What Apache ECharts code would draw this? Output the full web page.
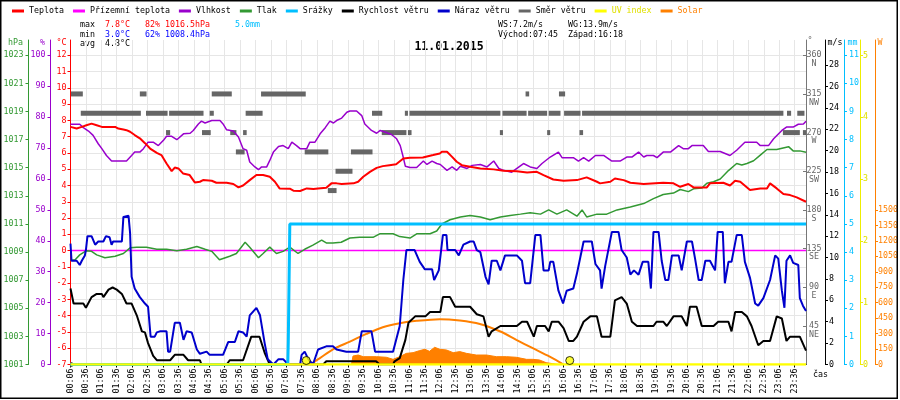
<!DOCTYPE html>
<html><head><meta charset="utf-8">
<script src="https://cdn.jsdelivr.net/npm/echarts@6/dist/echarts.min.js"></script>
<style>html,body{margin:0;padding:0;background:#fff}#c{width:900px;height:400px}</style>
</head><body><div id="c"></div>
<script>
const FONT = 'DejaVu Sans Mono';
const FS = 8.3;

// ---- tick labels ----
const timeLabels = ['00:06','00:36','01:06','01:36','02:06','02:36','03:06','03:36','04:06','04:36','05:06','05:36','06:06','06:36','07:06','07:36','08:06','08:36','09:06','09:36','10:06','10:36','11:06','11:36','12:06','12:36','13:06','13:36','14:06','14:36','15:06','15:36','16:06','16:36','17:06','17:36','18:06','18:36','19:06','19:36','20:06','20:36','21:06','21:36','22:06','22:36','23:06','23:36'];
const tempTicks = [-7,-6,-5,-4,-3,-2,-1,0,1,2,3,4,5,6,7,8,9,10,11,12];
const humTicks = [0,10,20,30,40,50,60,70,80,90,100];
const pressTicks = [1001,1003,1005,1007,1009,1011,1013,1015,1017,1019,1021,1023];
const dirTicks = [45,90,135,180,225,270,315,360];
const dirNames = ['NE','E','SE','S','SW','W','NW','N'];
const windTicks = [0,2,4,6,8,10,12,14,16,18,20,22,24,26,28];
const rainTicks = [0,1,2,3,4,5,6,7,8,9,10,11];
const uvTicks = [0,1,2,3,4,5];
const solarTicks = [0,150,300,450,600,750,900,1050,1200,1350,1500];

// ---- series values [time, value] ----
const temperature = [['00:06',7.6],['00:18',7.5],['00:28',7.6],['00:37',7.7],['00:47',7.8],['00:57',7.7],['01:07',7.6],['01:33',7.6],['01:39',7.5],['01:49',7.44],['01:55',7.4],['02:02',7.3],['02:11',7.1],['02:21',6.9],['02:31',6.6],['02:41',6.27],['02:54',6.0],['03:03',5.87],['03:13',5.35],['03:23',4.88],['03:29',5.1],['03:36',5.05],['03:45',4.74],['03:58',4.64],['04:08',4.19],['04:18',4.23],['04:24',4.33],['04:41',4.29],['04:50',4.17],['05:10',4.17],['05:23',4.09],['05:33',3.88],['05:42',4.0],['05:55',4.33],['06:08',4.64],['06:21',4.64],['06:34',4.54],['06:44',4.23],['06:53',3.82],['07:13',3.8],['07:20',3.68],['07:33',3.66],['07:46',3.82],['07:59',3.78],['08:08',3.82],['08:24',3.86],['08:34',4.13],['08:44',4.13],['08:54',4.09],['09:17',4.13],['09:26',4.23],['09:36',4.54],['09:49',4.84],['10:02',5.08],['10:14',5.19],['10:27',5.25],['10:40',5.31],['10:54',5.66],['11:07',5.7],['11:32',5.72],['11:52',5.87],['12:05',5.97],['12:09',6.07],['12:19',6.07],['12:29',5.76],['12:38',5.46],['12:48',5.25],['13:04',5.15],['13:24',5.05],['13:50',4.99],['14:09',4.9],['14:35',4.88],['14:55',4.8],['15:14',4.84],['15:27',4.64],['15:46',4.37],['16:06',4.29],['16:32',4.33],['16:51',4.5],['17:11',4.23],['17:17',4.13],['17:37',4.23],['17:46',4.43],['18:03',4.33],['18:16',4.17],['18:42',4.09],['19:20',4.17],['19:40',4.13],['19:53',3.92],['20:09',4.09],['20:19',3.88],['20:45',3.88],['20:51',4.13],['21:17',4.17],['21:30',4.0],['21:40',4.29],['21:50',4.23],['22:09',3.72],['22:29',3.82],['22:42',3.82],['22:48',4.13],['23:01',3.82],['23:14',3.47],['23:27',3.41],['23:40',3.27],['23:58',3.0]];

const groundTemp = [['00:06',0],['23:58',0]];

const humidity = [['00:06',77.7],['00:24',77.7],['00:31',76.6],['00:41',75.5],['00:50',74.1],['01:00',71.4],['01:07',69.8],['01:16',67.6],['01:26',65.8],['01:55',65.8],['02:05',67.6],['02:11',68.7],['02:21',68.7],['02:28',69.8],['02:37',71.9],['02:47',71.9],['02:57',70.8],['03:07',72.5],['03:13',73.8],['03:23',73.8],['03:33',72.7],['03:46',74.6],['03:59',74.8],['04:05',75.7],['04:15',77.8],['04:21',78.7],['04:28',78.1],['04:41',78.9],['04:57',78.9],['05:03',77.8],['05:10',75.9],['05:23',75.5],['05:33',73.6],['05:42',69.8],['05:49',69.3],['05:55',65.5],['06:05',63.9],['06:12',63.0],['06:18',63.9],['06:28',63.9],['06:34',66.0],['06:41',68.7],['06:51',70.5],['07:00',70.8],['07:10',69.8],['07:17',71.9],['07:26',70.8],['07:33',69.8],['07:46',69.8],['07:52',71.9],['08:02',71.9],['08:12',74.6],['08:22',76.6],['08:31',78.7],['08:38',78.1],['08:44',78.9],['08:54',79.7],['09:04',81.6],['09:10',82.0],['09:23',82.0],['09:33',80.5],['09:39',77.8],['09:52',75.7],['10:02',74.8],['10:09',75.7],['10:18',75.2],['10:31',74.4],['10:41',73.0],['10:48',70.8],['10:53',67.6],['10:58',64.1],['11:07',63.7],['11:20',63.7],['11:33',65.8],['11:40',64.7],['11:50',65.8],['11:59',65.0],['12:06',64.7],['12:19',62.8],['12:29',63.9],['12:38',62.8],['12:45',64.1],['12:58',63.4],['13:08',64.4],['13:24',64.7],['13:37',63.9],['13:50',65.8],['14:00',63.4],['14:09',62.8],['14:25',62.2],['14:48',65.0],['15:01',63.9],['15:14',63.4],['15:24',65.0],['15:40',67.1],['15:56',68.7],['16:03',66.9],['16:25',66.9],['16:35',65.8],['16:45',66.9],['16:55',65.8],['17:08',67.6],['17:24',67.6],['17:40',65.8],['17:56',65.8],['18:09',67.1],['18:19',67.1],['18:32',68.7],['18:42',67.1],['18:48',67.6],['19:01',67.6],['19:08',66.9],['19:20',68.7],['19:34',68.7],['19:50',70.8],['19:59',69.8],['20:09',69.8],['20:16',70.8],['20:38',70.8],['20:48',68.9],['21:11',68.9],['21:30',67.6],['21:43',69.3],['21:59',71.9],['22:22',71.9],['22:29',70.8],['22:45',70.8],['22:55',73.0],['23:11',75.7],['23:20',76.8],['23:33',76.8],['23:43',77.7],['23:53',77.8],['23:58',78.7]];

const pressure = [['00:06',1008.4],['00:15',1008.45],['00:24',1008.8],['00:37',1009.1],['00:47',1009.05],['00:57',1008.8],['01:13',1008.6],['01:33',1008.7],['01:49',1008.9],['02:02',1009.3],['02:15',1009.35],['02:34',1009.35],['02:54',1009.2],['03:13',1009.2],['03:33',1009.1],['03:52',1009.2],['04:12',1009.4],['04:28',1009.2],['04:41',1009.05],['04:56',1008.45],['05:16',1008.7],['05:29',1008.9],['05:46',1009.7],['05:55',1009.35],['06:12',1008.6],['06:21',1008.9],['06:34',1009.35],['06:47',1008.9],['07:00',1009.05],['07:13',1009.35],['07:29',1008.9],['07:42',1009.2],['07:58',1009.5],['08:15',1009.85],['08:24',1009.65],['08:37',1009.65],['08:53',1009.7],['09:10',1010.0],['09:29',1010.05],['09:55',1010.05],['10:08',1010.3],['10:34',1010.3],['10:47',1010.1],['11:07',1010.0],['11:20',1010.3],['11:46',1010.3],['11:59',1010.5],['12:09',1011.0],['12:25',1011.3],['12:45',1011.5],['13:04',1011.6],['13:24',1011.5],['13:43',1011.3],['14:03',1011.5],['14:22',1011.6],['14:42',1011.7],['15:01',1011.8],['15:21',1011.7],['15:37',1012.0],['15:53',1011.7],['16:12',1012.0],['16:32',1011.55],['16:42',1012.0],['16:51',1011.5],['17:11',1011.7],['17:30',1011.7],['17:50',1012.0],['18:16',1012.2],['18:42',1012.45],['19:01',1012.8],['19:20',1013.1],['19:40',1013.2],['19:53',1013.45],['20:09',1013.3],['20:19',1013.5],['20:35',1013.55],['20:45',1013.9],['20:58',1014.0],['21:11',1014.2],['21:27',1014.8],['21:43',1015.3],['21:53',1015.2],['22:03',1015.3],['22:16',1015.5],['22:29',1015.9],['22:42',1016.3],['23:01',1016.3],['23:24',1016.5],['23:33',1016.2],['23:46',1016.2],['23:58',1016.1]];

const rain = [['00:06',0],['07:09',0],['07:10',0.8],['07:13',5.0],['23:58',5.0]];

const windSpeed = [['00:06',7.1],['00:12',5.7],['00:31',5.7],['00:36',5.3],['00:47',6.3],['00:57',6.6],['01:07',6.6],['01:10',6.3],['01:20',7.0],['01:28',7.2],['01:36',7.0],['01:46',6.6],['01:55',5.7],['02:05',5.7],['02:15',4.6],['02:25',3.1],['02:31',3.0],['02:37',2.0],['02:47',0.8],['02:54',0.4],['03:20',0.4],['03:29',0.9],['03:46',0.9],['03:55',0.4],['04:18',0.4],['04:21',0],['05:10',0],['05:16',0.4],['05:42',0.4],['05:58',2.6],['06:14',2.6],['06:24',1.1],['06:34',0],['08:18',0],['08:24',0.3],['10:01',0.3],['10:08',0],['10:34',0],['10:37',0.3],['10:47',0.6],['10:58',2.3],['11:04',3.9],['11:17',4.5],['11:37',4.5],['11:46',4.9],['12:06',4.9],['12:11',6.3],['12:25',6.3],['12:35',5.4],['13:04',5.4],['13:17',4.7],['13:30',4.5],['13:40',2.6],['13:46',3.1],['14:03',3.6],['14:35',3.6],['14:45',4.0],['14:55',4.0],['15:08',2.6],['15:14',3.6],['15:30',3.6],['15:37',3.1],['15:43',4.0],['15:56',4.0],['16:06',3.4],['16:16',2.2],['16:25',2.2],['16:32',2.6],['16:45',4.0],['16:58',4.5],['17:11',4.5],['17:20',2.6],['17:37',2.6],['17:46',6.0],['17:59',6.3],['18:09',5.7],['18:19',4.0],['18:29',3.6],['19:01',3.6],['19:07',4.0],['19:20',4.0],['19:27',3.6],['19:40',4.5],['19:56',4.5],['20:06',3.6],['20:12',5.4],['20:25',5.4],['20:35',3.6],['20:58',3.6],['21:07',4.0],['21:27',4.0],['21:33',3.1],['21:40',4.9],['21:53',4.9],['22:03',4.5],['22:12',3.6],['22:25',1.8],['22:35',2.2],['22:48',2.2],['23:01',4.5],['23:11',4.3],['23:20',2.2],['23:27',2.6],['23:46',2.6],['23:58',1.3]];

const windGust = [['00:06',11.3],['00:08',9.7],['00:18',9.7],['00:24',9.3],['00:28',9.7],['00:34',10.2],['00:36',10.7],['00:39',12.0],['00:47',12.0],['00:54',11.2],['01:00',11.5],['01:10',11.5],['01:15',12.0],['01:22',11.9],['01:26',11.2],['01:29',11.5],['01:46',11.5],['01:49',13.8],['01:59',13.9],['02:02',12.3],['02:05',8.2],['02:11',7.1],['02:21',6.3],['02:31',5.7],['02:37',5.4],['02:42',2.6],['02:50',2.6],['02:54',3.0],['03:00',3.1],['03:13',3.1],['03:16',1.2],['03:20',1.2],['03:26',3.0],['03:29',3.9],['03:39',3.9],['03:46',2.3],['03:52',3.1],['04:02',3.0],['04:12',1.4],['04:18',1.0],['04:31',1.2],['04:37',0.9],['05:03',0.9],['05:13',2.1],['05:26',2.1],['05:33',3.1],['05:42',3.0],['05:49',2.6],['05:55',4.6],['06:08',5.3],['06:15',4.6],['06:24',2.0],['06:30',0.5],['06:41',0],['06:51',0.5],['07:00',0.5],['07:10',0],['07:33',0],['07:36',0.9],['07:42',1.2],['07:49',0.5],['07:58',0],['08:08',1.4],['08:24',1.7],['08:37',1.7],['08:44',1.4],['09:03',1.2],['09:26',1.2],['09:33',3.1],['09:52',3.1],['09:59',1.2],['10:34',1.2],['10:47',3.6],['10:54',7.9],['11:00',10.7],['11:16',10.7],['11:26',9.6],['11:36',8.9],['11:50',8.9],['11:54',7.9],['12:03',8.8],['12:11',12.1],['12:18',12.1],['12:20',10.7],['12:35',10.7],['12:42',10.2],['12:51',11.2],['13:04',11.5],['13:11',11.5],['13:17',10.7],['13:24',10.5],['13:34',8.2],['13:40',7.5],['13:46',9.7],['13:56',9.7],['14:03',8.8],['14:12',10.2],['14:35',10.2],['14:45',9.7],['14:51',7.6],['15:01',7.6],['15:11',12.1],['15:21',12.1],['15:27',8.8],['15:37',8.8],['15:40',9.6],['15:46',9.6],['15:56',6.9],['16:05',5.7],['16:12',6.9],['16:25',7.1],['16:32',8.5],['16:45',11.5],['17:01',11.5],['17:08',9.4],['17:17',8.8],['17:20',7.1],['17:27',9.2],['17:40',12.4],['17:53',12.4],['17:59',10.7],['18:09',10.0],['18:16',8.4],['18:23',8.8],['18:32',8.4],['18:40',9.6],['18:51',9.6],['18:56',7.1],['19:01',12.4],['19:11',12.4],['19:17',9.7],['19:24',7.9],['19:30',7.9],['19:37',10.2],['19:50',10.2],['19:56',8.8],['20:06',11.5],['20:16',11.5],['20:22',9.9],['20:29',7.9],['20:35',7.9],['20:42',9.7],['20:51',9.7],['21:01',8.8],['21:06',12.4],['21:16',12.4],['21:20',7.6],['21:27',9.6],['21:33',9.6],['21:43',12.1],['21:53',12.1],['21:59',9.6],['22:09',8.1],['22:19',5.7],['22:25',5.5],['22:35',6.2],['22:48',7.9],['22:58',10.2],['23:04',9.9],['23:11',6.9],['23:16',5.3],['23:20',9.7],['23:27',10.2],['23:33',9.5],['23:43',9.3],['23:46',6.2],['23:52',5.5],['23:58',5.0]];

// wind direction runs: [from, to, degrees]
const windDir = [['00:06','00:09',0],['00:07','00:30',315],['00:26','02:23',292.5],['02:21','02:34',315],['02:33','03:15',292.5],['03:12','03:20',270],['03:18','04:25',292.5],['04:22','04:39',270],['04:37','04:45',292.5],['04:41','05:20',315],['05:17','05:29',270],['05:28','05:45',247.5],['05:42','05:49',270],['05:47','06:20',292.5],['06:17','07:44',315],['07:42','08:28',247.5],['08:27','08:44',202.5],['08:42','09:15',225],['09:12','09:54',247.5],['09:53','10:13',292.5],['10:12','11:00',270],['10:57','11:03',292.5],['11:03','11:10',270],['11:06','14:03',292.5],['14:02','14:08',270],['14:07','14:54',292.5],['14:52','14:59',315],['14:57','15:34',292.5],['15:34','15:40',270],['15:37','16:00',292.5],['15:57','16:09',315],['16:07','16:39',292.5],['16:37','16:44',270],['16:42','23:14',292.5],['23:13','23:46',270],['23:21','23:29',292.5],['23:41','23:55',292.5],['23:52','23:58',270]];

const uvIndex = [['00:06',0],['23:58',0]];
const solar = [['09:13',0],['09:16',82],['09:26',92],['09:36',76],['10:02',76],['10:21',70],['10:34',50],['10:47',76],['11:00',108],['11:13',115],['11:26',135],['11:36',148],['11:45',128],['11:55',167],['12:05',148],['12:18',141],['12:31',115],['12:44',125],['12:57',108],['13:16',92],['13:36',92],['13:55',76],['14:15',76],['14:34',70],['14:54',50],['15:06',50],['15:19',44],['15:32',18],['15:45',8],['15:55',0]];
const solarMax = [['07:52',0],['08:11',60],['08:37',148],['09:10',222],['09:42',297],['10:14',362],['10:47',401],['11:20',424],['12:05',440],['12:44',427],['13:23',394],['14:03',320],['14:34',239],['15:06',158],['15:39',76],['16:02',12],['16:05',0]];
const sunEvents = [['07:45',0],['16:18',0]];

// ---- header texts ----
const statRows = [
  ['max', [['7.8°C','#ff0000'],['82%','#ff0000'],['1016.5hPa','#ff0000'],['5.0mm','#00bfff']]],
  ['min', [['3.0°C','#0000ff'],['62%','#0000ff'],['1008.4hPa','#0000ff']]],
  ['avg', [['4.8°C','#000000']]]
];
const windInfo = [['WS:7.2m/s','WG:13.9m/s'],['Východ:07:45','Západ:16:18']];
const titleText = '11.01.2015';

const parseT = s => { const p = s.split(':'); return (+p[0]) * 60 + (+p[1]) - 6; };
const pts = arr => arr.map(d => [parseT(d[0]), d[1]]);

const C = {
  temp:'#ff0000', ground:'#ff00ff', hum:'#9900cc', press:'#339933', rain:'#00bfff',
  wind:'#000000', gust:'#0000cc', dir:'#666666', uv:'#ffff00', uvText:'#e0e000', solar:'#ff8000'
};

function yAx(o) {
  return {
    type:'value', position:o.pos, offset:o.offset, min:o.min, max:o.max,
    interval:o.interval,
    splitLine:{show:!!o.split, lineStyle:{color:'#e6e6e6', width:1}},
    axisLine:{show:true, onZero:false, lineStyle:{color:o.color, width:1}},
    axisTick:{show:true, length:3, inside:!!o.tickInside, lineStyle:{color:o.color}, customValues:o.ticks},
    axisLabel:Object.assign({color:o.labelColor||o.color, fontFamily:FONT, fontSize:FS, margin:o.margin, customValues:o.ticks,
      formatter:v => String(v)}, o.label||{})
  };
}

const chart = echarts.init(document.getElementById('c'), null, {renderer:'canvas'});

const lineS = (name, data, yi, color, w, extra) => Object.assign({
  name, type:'line', data:pts(data), yAxisIndex:yi, symbol:'none', showSymbol:false,
  itemStyle:{color}, lineStyle:{color, width:w}, animation:false
}, extra||{});

const graphics = [];
graphics.push({type:'rect', shape:{x:0.75, y:0.75, width:896.5, height:397.5}, style:{fill:null, stroke:'#000', lineWidth:1.5}, z:100});
graphics.push({type:'text', x:449, y:47, style:{text:titleText, fill:'#000', font:'bold 11.5px ' + FONT, align:'center', verticalAlign:'middle'}});
const statCols = [105,145,165,235];
statRows.forEach((r, i) => {
  const y = 25 + i * 9.6;
  graphics.push({type:'text', x:80, y, style:{text:r[0], fill:'#000', font:FS + 'px ' + FONT, verticalAlign:'middle'}});
  r[1].forEach((c, j) => graphics.push({type:'text', x:statCols[j], y, style:{text:c[0], fill:c[1], font:FS + 'px ' + FONT, verticalAlign:'middle'}}));
});
windInfo.forEach((r, i) => {
  const y = 25 + i * 9.6;
  graphics.push({type:'text', x:498, y, style:{text:r[0], fill:'#000', font:FS + 'px ' + FONT, verticalAlign:'middle'}});
  graphics.push({type:'text', x:568, y, style:{text:r[1], fill:'#000', font:FS + 'px ' + FONT, verticalAlign:'middle'}});
});
[['hPa',15.5,43,C.press],['%',42.5,43,C.hum],['°C',61.5,43,C.temp],['°',810,41,C.dir],['m/s',835,43,'#000'],['mm',852.5,43,C.rain],['W',880,43,C.solar]].forEach(u => {
  graphics.push({type:'text', x:u[1], y:u[2], style:{text:u[0], fill:u[3], font:FS + 'px ' + FONT, align:'center', verticalAlign:'middle'}});
});
graphics.push({type:'text', x:813, y:375, style:{text:'čas', fill:'#000', font:FS + 'px ' + FONT, verticalAlign:'middle'}});

const option = {
  backgroundColor:'#ffffff',
  animation:false,
  textStyle:{fontFamily:FONT},
  grid:{left:70.5, right:94, top:40, bottom:35.5, containLabel:false, outerBoundsMode:'none'},
  legend:{
    left:7, top:2, icon:'rect', itemWidth:12, itemHeight:3, itemGap:9, selectedMode:false,
    textStyle:{fontFamily:FONT, fontSize:FS, color:'#000'},
    data:['Teplota','Přízemní teplota','Vlhkost','Tlak','Srážky','Rychlost větru','Náraz větru','Směr větru',
      {name:'UV index', textStyle:{color:C.uvText}}, {name:'Solar', textStyle:{color:C.solar}}]
  },
  xAxis:{
    type:'value', min:0, max:1432, interval:30,
    splitLine:{show:true, lineStyle:{color:'#e6e6e6', width:1}},
    axisLine:{show:true, onZero:false, lineStyle:{color:'#000'}},
    axisTick:{show:true, length:3, customValues:timeLabels.map(parseT), lineStyle:{color:'#000'}},
    axisLabel:{customValues:timeLabels.map(parseT), rotate:90, margin:4, color:'#000', fontFamily:FONT, fontSize:FS,
      formatter:v => timeLabels[Math.round(v / 30)] || ''}
  },
  yAxis:[
    yAx({pos:'left', offset:0, min:-7, max:12.94, interval:1, split:true, color:C.temp, ticks:tempTicks, margin:4}),
    yAx({pos:'left', offset:20, min:0, max:104.95, color:C.hum, ticks:humTicks, margin:5}),
    yAx({pos:'left', offset:42, min:1001, max:1024.09, color:C.press, ticks:pressTicks, margin:5}),
    yAx({pos:'right', offset:0, min:0, max:377.8, color:'#777', labelColor:'#666', ticks:dirTicks, margin:8, tickInside:true,
      label:{align:'center', lineHeight:8.5, formatter:v => ' \n' + v + '\n' + dirNames[dirTicks.indexOf(v)]}}),
    yAx({pos:'right', offset:19, min:0, max:30.34, color:'#000', ticks:windTicks, margin:4}),
    yAx({pos:'right', offset:38, min:0, max:11.54, color:C.rain, ticks:rainTicks, margin:5}),
    yAx({pos:'right', offset:54, min:0, max:5.25, color:'#eeee00', labelColor:C.uvText, ticks:uvTicks, margin:3}),
    yAx({pos:'right', offset:69, min:0, max:3150, color:C.solar, ticks:solarTicks, margin:3})
  ],
  series:[
    lineS('Solar', solar, 7, C.solar, 1, {areaStyle:{color:C.solar, opacity:1}}),
    lineS('Solar', solarMax, 7, C.solar, 2, {smooth:0.3}),
    {
      name:'Směr větru', type:'custom', yAxisIndex:3, itemStyle:{color:C.dir}, animation:false,
      data:windDir.map(d => [parseT(d[0]), parseT(d[1]), d[2]]),
      encode:{x:[0,1], y:2},
      renderItem:(params, api) => {
        const a = api.coord([api.value(0), api.value(2)]);
        const b = api.coord([api.value(1), api.value(2)]);
        return {type:'rect', shape:{x:a[0], y:a[1] - 2.5, width:Math.max(b[0] - a[0], 2), height:5}, style:{fill:C.dir}};
      }
    },
    lineS('Přízemní teplota', groundTemp, 0, C.ground, 1.5),
    lineS('Tlak', pressure, 2, C.press, 1.5),
    lineS('Vlhkost', humidity, 1, C.hum, 1.5),
    lineS('Teplota', temperature, 0, C.temp, 2),
    lineS('Rychlost větru', windSpeed, 4, C.wind, 2),
    lineS('Náraz větru', windGust, 4, C.gust, 2),
    lineS('Srážky', rain, 5, C.rain, 3),
    lineS('UV index', uvIndex, 6, C.uv, 2.5),
    {
      name:'sun', type:'scatter', yAxisIndex:6, data:pts(sunEvents), symbol:'circle', symbolSize:8, symbolOffset:[0,-4],
      itemStyle:{color:'#ffff00', borderColor:'#000', borderWidth:1}, z:5, animation:false
    }
  ],
  graphic:graphics
};
chart.setOption(option);
</script>
</body></html>
